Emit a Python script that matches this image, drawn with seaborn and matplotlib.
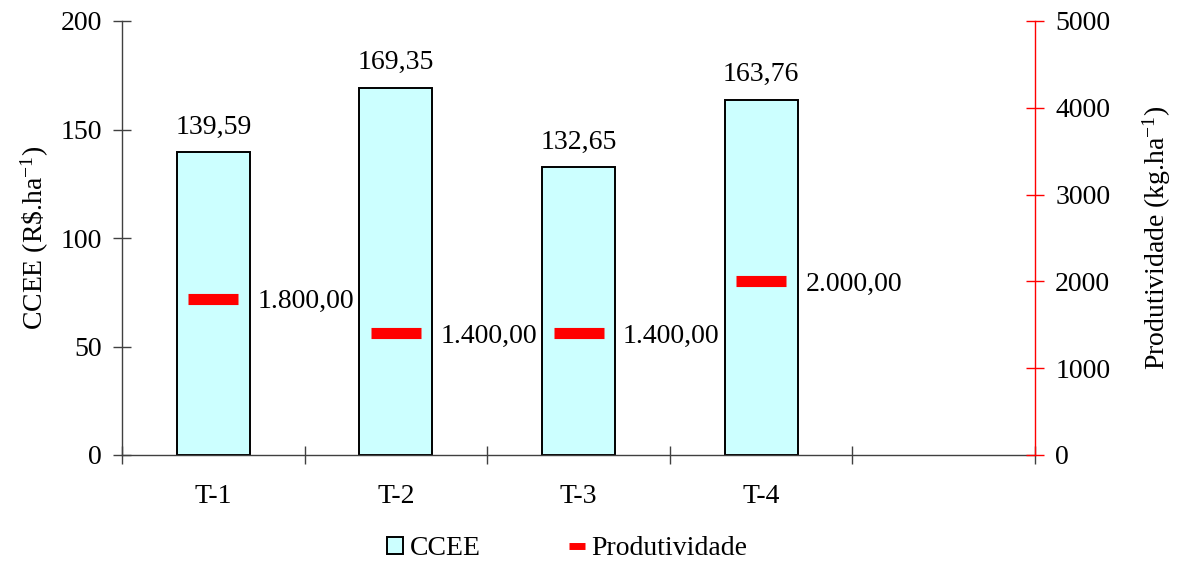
import numpy as np
import matplotlib
matplotlib.use("Agg")
import matplotlib.pyplot as plt
from matplotlib.patches import Patch
from matplotlib.lines import Line2D
import seaborn as sns
import pandas as pd

# Treatments and their values
treatments = ["T-1", "T-2", "T-3", "T-4"]
ccee = [139.59, 169.35, 132.65, 163.76]          # R$/ha
produtividade = [1800.00, 1400.00, 1400.00, 2000.00]  # kg/ha

left_ticks = [0, 50, 100, 150, 200]
right_ticks = [0, 1000, 2000, 3000, 4000, 5000]

sns.set_theme(style="white")
plt.rcParams["font.family"] = ["Liberation Serif", "DejaVu Serif"]
plt.rcParams["mathtext.fontset"] = "custom"
plt.rcParams["mathtext.rm"] = "Liberation Serif"
plt.rcParams["mathtext.it"] = "Liberation Serif:italic"
plt.rcParams["mathtext.bf"] = "Liberation Serif:bold"
for key in ["text.color", "axes.labelcolor", "xtick.labelcolor", "ytick.labelcolor"]:
    plt.rcParams[key] = "black"

FS = 20
BAR_COLOR = "#CCFFFF"
RED = "#FF0000"


def fmt_br(v, decimals=2):
    s = f"{v:,.{decimals}f}"
    return s.replace(",", "X").replace(".", ",").replace("X", ".")


df = pd.DataFrame({"trat": treatments, "ccee": ccee, "prod": produtividade})

fig = plt.figure(figsize=(11.81, 5.63), dpi=100)
ax = fig.add_axes([122 / 1181, 1 - 455 / 563, (1035 - 122) / 1181, (455 - 21) / 563])

sns.barplot(data=df, x="trat", y="ccee", ax=ax, color=BAR_COLOR, saturation=1,
            width=0.4, edgecolor="black", linewidth=1.4, errorbar=None, zorder=2)

ax.set_xlim(-0.5, 4.5)
ax.set_ylim(0, 200)
ax.set_yticks(left_ticks)
ax.set_xticks(range(len(treatments)))
ax.set_xticklabels(treatments, fontsize=FS, color="black")
ax.set_xticks(np.arange(-0.5, 5.0, 1.0), minor=True)
ax.tick_params(axis="x", which="major", length=0, pad=21)
ax.tick_params(axis="x", which="minor", direction="inout", length=13, width=1,
               color="#404040", bottom=True)
ax.tick_params(axis="y", which="major", direction="inout", length=13, width=1,
               color="#404040", labelsize=FS, labelcolor="black", pad=8, left=True)
ax.set_xlabel("")
ax.set_ylabel(r"CCEE (R\$.ha$^{\mathregular{-1}}$)", fontsize=FS, labelpad=7,
              color="black")

for side in ["top", "right"]:
    ax.spines[side].set_visible(False)
for side in ["left", "bottom"]:
    ax.spines[side].set_color("#404040")
    ax.spines[side].set_linewidth(1)

for i, v in enumerate(ccee):
    ax.annotate(fmt_br(v), (i, v), xytext=(0, 9), textcoords="offset points",
                ha="center", va="bottom", fontsize=FS, color="black")

# Yield on the secondary axis
ax2 = ax.twinx()
sns.scatterplot(x=np.arange(len(treatments)), y=produtividade, ax=ax2,
                marker="_", s=1245, linewidth=8, color=RED, zorder=3, legend=False)
for coll in ax2.collections:
    coll.set_capstyle("butt")
ax2.set_xlim(-0.5, 4.5)
ax2.set_ylim(0, 5000)
ax2.set_yticks(right_ticks)
ax2.tick_params(axis="y", which="major", direction="inout", length=13, width=1,
                color=RED, labelsize=FS, labelcolor="black", pad=8, right=True)
ax2.set_ylabel(r"Produtividade (kg.ha$^{\mathregular{-1}}$)", fontsize=FS,
               labelpad=22, color="black")
for side in ["top", "left", "bottom"]:
    ax2.spines[side].set_visible(False)
ax2.spines["right"].set_color(RED)
ax2.spines["right"].set_linewidth(1)

for i, v in enumerate(produtividade):
    ax2.annotate(fmt_br(v), (i, v), xytext=(32, 0), textcoords="offset points",
                 ha="left", va="center_baseline", fontsize=FS, color="black")

handles = [
    Patch(facecolor=BAR_COLOR, edgecolor="black", linewidth=1.4),
    Line2D([0], [0], color=RED, linewidth=5, solid_capstyle="butt"),
]
fig.legend(handles, ["CCEE", "Produtividade"], loc="center",
           bbox_to_anchor=(0.4805, 0.025), ncol=2, frameon=False, fontsize=FS,
           handlelength=0.55, handleheight=0.55, handletextpad=0.25,
           columnspacing=3.2, borderpad=0)

fig.savefig("out.png", dpi=100)
